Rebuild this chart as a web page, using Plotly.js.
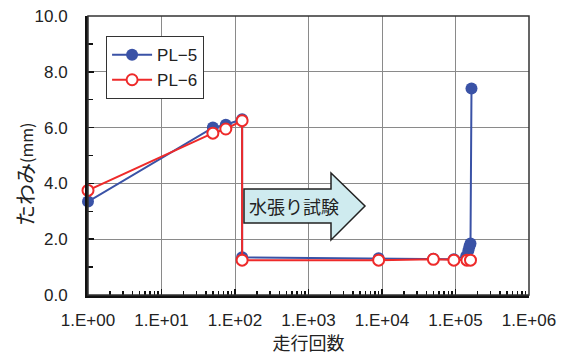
<!DOCTYPE html>
<html><head><meta charset="utf-8">
<script src="https://cdn.plot.ly/plotly-3.0.1.min.js"></script>
<style>body{margin:0;background:#fff}#c{width:563px;height:355px}</style>
</head><body><div id="c"></div>
<script>
const pl5X = [1, 50, 75, 125, 125, 9000, 50000, 95000, 140000, 150000, 155000, 160000, 165000];
const pl5Y = [3.35, 6.0, 6.1, 6.3, 1.35, 1.32, 1.3, 1.28, 1.4, 1.6, 1.75, 1.85, 7.4];
const pl6X = [1, 50, 75, 125, 125, 9000, 50000, 95000, 143000, 160000];
const pl6Y = [3.75, 5.8, 5.95, 6.25, 1.25, 1.25, 1.28, 1.25, 1.25, 1.25];
const xTickVals = [1, 10, 100, 1000, 10000, 100000, 1000000];
const xTickText = ['1.E+00','1.E+01','1.E+02','1.E+03','1.E+04','1.E+05','1.E+06'];
const yTickVals = [0, 2, 4, 6, 8, 10];
const yTickText = ['0.0','2.0','4.0','6.0','8.0','10.0'];

const F = 'Liberation Sans, Arial, Noto Sans CJK JP, sans-serif';
const J = 'Noto Sans CJK JP, Liberation Sans, sans-serif';
const blue = '#3a52a6', red = '#ee2a2a';

const traces = [
  {x: pl5X, y: pl5Y, name: 'PL−5', mode: 'lines+markers', cliponaxis: false,
   line: {color: blue, width: 2}, marker: {color: blue, size: 12, symbol: 'circle'}},
  {x: pl6X, y: pl6Y, name: 'PL−6', mode: 'lines+markers', cliponaxis: false,
   line: {color: red, width: 2}, marker: {color: '#fff', size: 11, symbol: 'circle', line: {color: red, width: 2}}}
];

const px = (x) => (x - 88) / 441, py = (y) => (295 - y) / 279;
const arrowPath = 'M' + px(244) + ',' + py(189) + ' L' + px(331) + ',' + py(189) + ' L' + px(331) + ',' + py(173) +
  ' L' + px(365) + ',' + py(206) + ' L' + px(331) + ',' + py(240) + ' L' + px(331) + ',' + py(223) +
  ' L' + px(244) + ',' + py(223) + ' Z';

const layout = {
  width: 563, height: 355,
  margin: {l: 88, r: 34, t: 16, b: 60},
  paper_bgcolor: '#fff', plot_bgcolor: '#fff',
  showlegend: true,
  legend: {x: 0.041, y: 0.928, xanchor: 'left', yanchor: 'top', bgcolor: '#fff',
    bordercolor: '#333', borderwidth: 1, font: {family: F, size: 17, color: '#222'},
    tracegroupgap: 0, itemwidth: 40},
  xaxis: {type: 'log', range: [0, 6], tickvals: xTickVals, ticktext: xTickText,
    showgrid: true, gridcolor: '#8a8a8a', gridwidth: 1,
    ticks: 'inside', ticklen: 6, tickcolor: '#111', tickwidth: 1.5, ticklabelstandoff: 8,
    minor: {ticks: 'inside', ticklen: 4, tickcolor: '#111', tickwidth: 1.5, showgrid: false,
      tickvals: [2,3,4,5,6,7,8,9,20,30,40,50,60,70,80,90,200,300,400,500,600,700,800,900,
        2000,3000,4000,5000,6000,7000,8000,9000,20000,30000,40000,50000,60000,70000,80000,90000,
        200000,300000,400000,500000,600000,700000,800000,900000]},
    showline: true, linecolor: '#111', linewidth: 3, zeroline: false,
    tickfont: {family: F, size: 17, color: '#222'},
    title: {text: '走行回数', font: {family: J, size: 18, color: '#222'}, standoff: 4}},
  yaxis: {range: [0, 10], tickvals: yTickVals, ticktext: yTickText,
    showgrid: true, gridcolor: '#8a8a8a', gridwidth: 1,
    ticks: 'inside', ticklen: 6, tickcolor: '#111', tickwidth: 1.5, ticklabelstandoff: 14,
    minor: {ticks: 'inside', ticklen: 5, tickcolor: '#111', tickwidth: 1.5, showgrid: false, tickvals: [1,3,5,7,9]},
    showline: true, linecolor: '#111', linewidth: 3, zeroline: false,
    tickfont: {family: F, size: 17, color: '#222'}},
  shapes: [
    {type: 'rect', xref: 'paper', yref: 'paper', x0: 0, x1: 1, y0: 0, y1: 1,
     line: {color: '#333', width: 1.5}, layer: 'above'},
    {type: 'path', xref: 'paper', yref: 'paper', path: arrowPath,
     fillcolor: '#cfebef', line: {color: '#222', width: 1.5}, layer: 'above'}
  ],
  annotations: [
    {xref: 'paper', yref: 'paper', x: px(294), y: py(206), text: '水張り試験', showarrow: false,
     font: {family: J, size: 18, color: '#222'}, xanchor: 'center', yanchor: 'middle'},
    {xref: 'paper', yref: 'paper', x: px(24), y: py(175), text: 'たわみ<span style="font-size:16px">(mm)</span>',
     showarrow: false, textangle: -90, font: {family: J, size: 21, color: '#222'},
     xanchor: 'center', yanchor: 'middle'}
  ]
};
Plotly.newPlot('c', traces, layout, {displayModeBar: false, staticPlot: true});
</script></body></html>
